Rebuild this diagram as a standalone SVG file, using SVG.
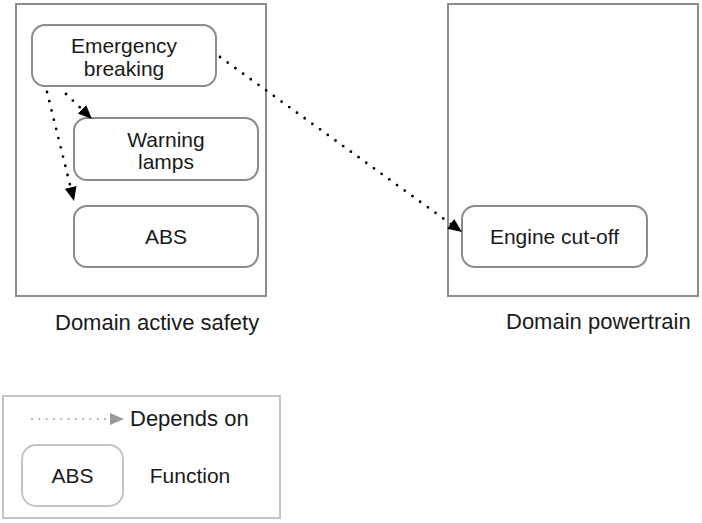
<svg xmlns="http://www.w3.org/2000/svg" width="702" height="523" viewBox="0 0 702 523">
<style>
text{font-family:"Liberation Sans",Arial,sans-serif;fill:#1a1a1a;}
.node{font-size:21px;text-anchor:middle;}
.lbl{font-size:22px;}
.domain{fill:#fff;stroke:#8c8c8c;stroke-width:2;}
.fn{fill:#fff;stroke:#8c8c8c;stroke-width:2;}
.dep{fill:none;stroke:#000;stroke-width:2.8;stroke-linecap:round;stroke-dasharray:0 9.5;}
.legbox{fill:#fff;stroke:#c4c4c4;stroke-width:2;}
</style>
<defs>
<marker id="ah" markerUnits="userSpaceOnUse" markerWidth="16" markerHeight="14" refX="14" refY="6" orient="auto">
<path d="M0,0 L14,6 L0,12 z" fill="#000"/>
</marker>
</defs>
<rect width="702" height="523" fill="#fff"/>
<g id="domain-active-safety">
<rect class="domain" x="16" y="4" width="250" height="292"/>
<text class="lbl" x="55" y="330">Domain active safety</text>
</g>
<g id="domain-powertrain">
<rect class="domain" x="448" y="4" width="250" height="292"/>
<text class="lbl" x="506" y="329">Domain powertrain</text>
</g>
<g id="emergency-breaking">
<rect class="fn" x="32" y="25" width="184" height="61" rx="13"/>
<text class="node" x="124" y="53">Emergency</text>
<text class="node" x="124" y="76">breaking</text>
</g>
<g id="warning-lamps">
<rect class="fn" x="74" y="118" width="184" height="62" rx="13"/>
<text class="node" x="166" y="147">Warning</text>
<text class="node" x="166" y="169">lamps</text>
</g>
<g id="abs">
<rect class="fn" x="74" y="206" width="184" height="61" rx="13"/>
<text class="node" x="166" y="244">ABS</text>
</g>
<g id="engine-cut-off">
<rect class="fn" x="462" y="206" width="185" height="61" rx="13"/>
<text class="node" x="554.5" y="244">Engine cut-off</text>
</g>
<g id="connectors">
<path class="dep" d="M47,92 L74,201" marker-end="url(#ah)"/>
<path class="dep" d="M66,94 L92,119" marker-end="url(#ah)"/>
<path class="dep" d="M220,57 L462,232" marker-end="url(#ah)"/>
</g>
<g id="legend">
<rect class="legbox" x="3" y="396" width="277" height="122"/>
<path d="M32,419 L108,419" fill="none" stroke="#a8a8a8" stroke-width="2.2" stroke-linecap="round" stroke-dasharray="0 7.3"/>
<path d="M110,413 L124,419 L110,425 z" fill="#999"/>
<text class="lbl" x="130" y="426">Depends on</text>
<rect x="22" y="445" width="101" height="61" rx="14" fill="#fff" stroke="#c4c4c4" stroke-width="2"/>
<text class="node" x="72.5" y="483">ABS</text>
<text class="node" x="190" y="483">Function</text>
</g>
</svg>
